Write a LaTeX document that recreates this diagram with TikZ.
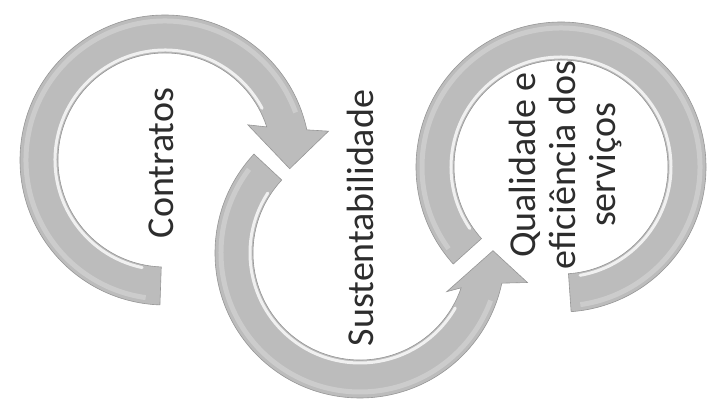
\documentclass[tikz,border=0pt]{standalone}
\usepackage{fontspec}
\setmainfont{Carlito}
\usepackage{xcolor}
\colorlet{bordercolor}{white}
\definecolor{ringcolor}{RGB}{188, 188, 188}
\definecolor{shinecolor}{RGB}{240, 240, 240}
\definecolor{glowcolor}{RGB}{204, 204, 204}
\definecolor{edgecolor}{RGB}{150, 150, 150}
\definecolor{labelcolor}{RGB}{45, 45, 45}

\begin{document}
\begin{tikzpicture}[x=0.5pt, y=0.5pt,
        ring/.style={fill=ringcolor, draw=edgecolor, line width=0.3pt},
        shine/.style={draw=shinecolor, line width=1.5pt, line cap=round},
        glow/.style={draw=glowcolor, line width=2.5pt},
        ringtext/.style={text=labelcolor, font=\fontsize{19}{20}\selectfont, rotate=90, align=center}]
        \useasboundingbox[fill=bordercolor] (0, 0) rectangle (707, 407); % 707 x 407 px
        % Rings {{{
        \begin{scope}[shift={(165, 247)}] % Contratos
                \fill[ring] (268:145) arc[start angle=268, end angle=12, radius=145] -- (10:166) -- (-4:125) -- (23:90) -- (18:107) arc[start angle=18, end angle=268, radius=107] -- cycle;
                \draw[glow] (262:139) arc[start angle=262, end angle=20, radius=139];
                \draw[shine] (258:110) arc[start angle=258, end angle=28, radius=110];
        \end{scope}
        \begin{scope}[shift={(360, 154)}] % Sustentabilidade
                \fill[ring] (137:145) arc[start angle=137, end angle=348, radius=145] -- (-10:170) -- (1:133) -- (-24:95) -- (-19:107) arc[start angle=341, end angle=137, radius=107] -- cycle;
                \draw[glow] (143:139) arc[start angle=143, end angle=340, radius=139];
                \draw[shine] (147:110) arc[start angle=147, end angle=330, radius=110];
        \end{scope}
        \begin{scope}[shift={(561, 240)}] % Qualidade
                \fill[ring] (222:145) arc[start angle=222, end angle=-86, radius=145] -- (-86:107) arc[start angle=-86, end angle=222, radius=107] -- cycle;
                \draw[glow] (216:139) arc[start angle=216, end angle=-82, radius=139];
                \draw[shine] (214:110) arc[start angle=214, end angle=-80, radius=110];
        \end{scope}
        % }}}
        % Labels {{{
        \node[ringtext] (contratos) at (161, 244) {Contratos};
        \node[ringtext] (sustentabilidade) at (360, 189) {Sustentabilidade};
        \node[ringtext] (qualidade) at (565, 242) {Qualidade e\\eficiência dos\\serviços};
        % }}}
\end{tikzpicture}
\end{document}
